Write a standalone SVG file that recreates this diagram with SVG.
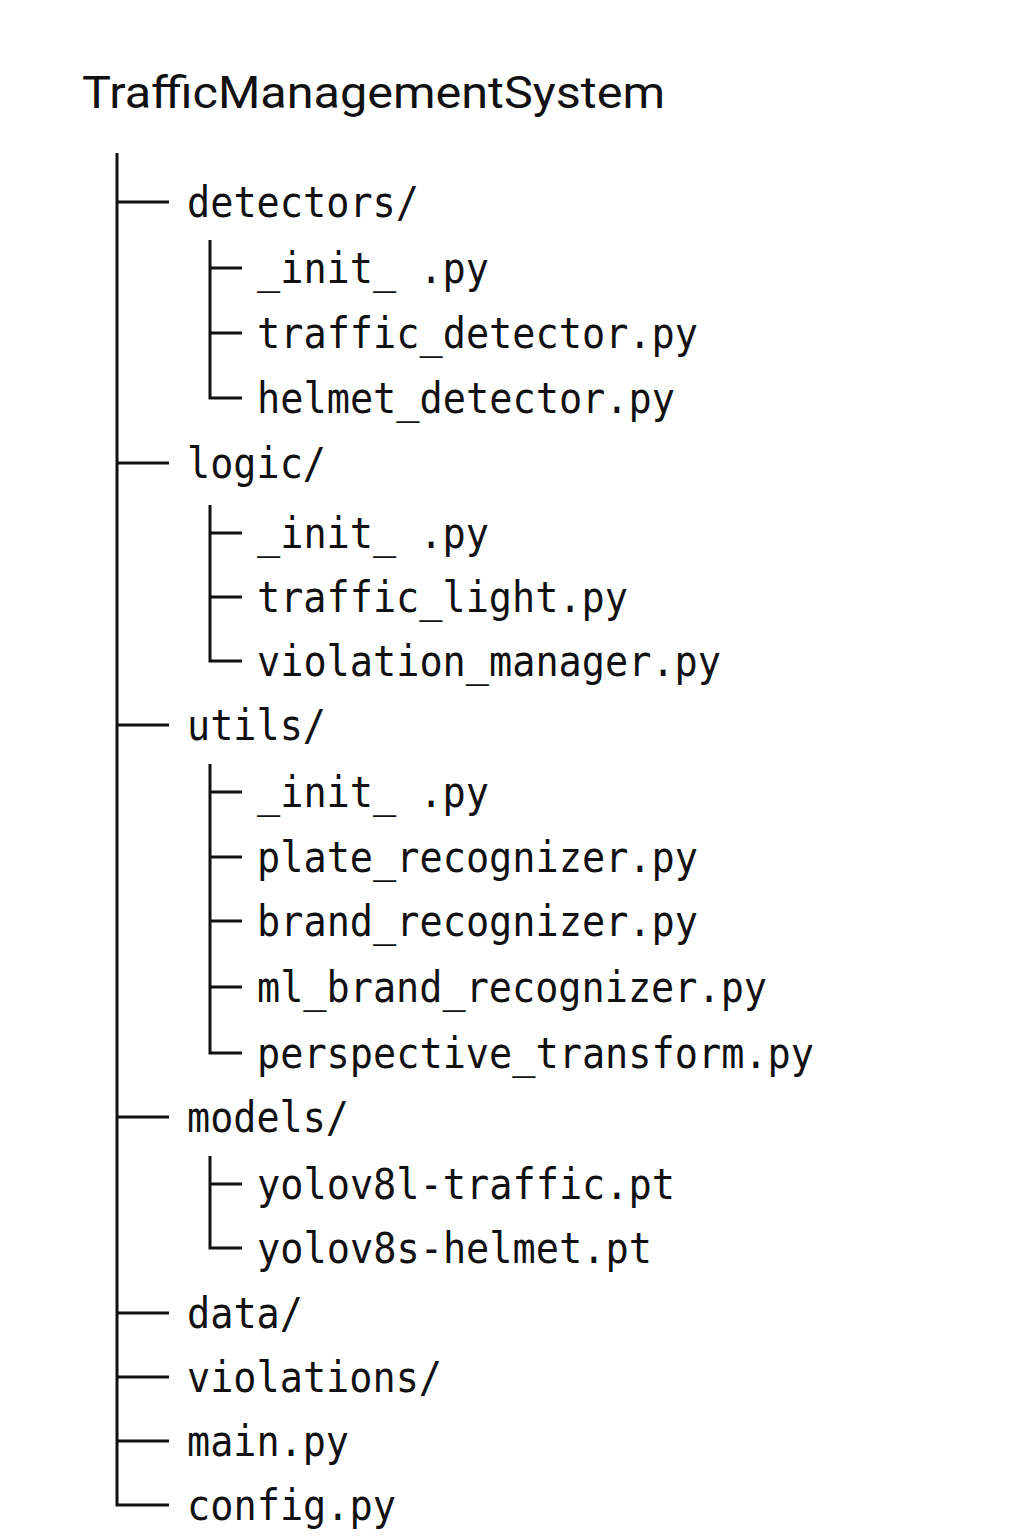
<svg xmlns="http://www.w3.org/2000/svg" width="1024" height="1536" viewBox="0 0 1024 1536">
<style>
.t{font-family:"DejaVu Sans Mono","Liberation Mono",monospace;font-size:43px;fill:#111;}
.title{font-family:Roboto,"Liberation Sans",sans-serif;font-size:44px;fill:#111;}
.c{stroke:#111;stroke-width:3;fill:none;stroke-linecap:butt;}
</style>
<rect width="1024" height="1536" fill="#fff"/>
<g id="root"><text class="title" x="82" y="108" textLength="583" lengthAdjust="spacingAndGlyphs">TrafficManagementSystem</text></g>
<g id="connectors">
<path class="c" d="M117 153V1505H169"/>
<path class="c" d="M117 202H169M117 463H169M117 725H169M117 1117H169M117 1313H169M117 1377H169M117 1441H169"/>
<path class="c" d="M210 240V398H242M210 268H242M210 333H242"/>
<path class="c" d="M210 505V661H242M210 533H242M210 597H242"/>
<path class="c" d="M210 764V1053H242M210 792H242M210 857H242M210 921H242M210 987H242"/>
<path class="c" d="M210 1156V1248H242M210 1184H242"/>
</g>
<g id="detectors"><text class="t" x="187" y="217" textLength="232" lengthAdjust="spacingAndGlyphs">detectors/</text></g>
<g id="detectors_init"><text class="t" x="257" y="283" textLength="232" lengthAdjust="spacingAndGlyphs">_init_ .py</text></g>
<g id="traffic_detector"><text class="t" x="257" y="348" textLength="441" lengthAdjust="spacingAndGlyphs">traffic_detector.py</text></g>
<g id="helmet_detector"><text class="t" x="257" y="413" textLength="418" lengthAdjust="spacingAndGlyphs">helmet_detector.py</text></g>
<g id="logic"><text class="t" x="187" y="478" textLength="139" lengthAdjust="spacingAndGlyphs">logic/</text></g>
<g id="logic_init"><text class="t" x="257" y="548" textLength="232" lengthAdjust="spacingAndGlyphs">_init_ .py</text></g>
<g id="traffic_light"><text class="t" x="257" y="612" textLength="371" lengthAdjust="spacingAndGlyphs">traffic_light.py</text></g>
<g id="violation_manager"><text class="t" x="257" y="676" textLength="464" lengthAdjust="spacingAndGlyphs">violation_manager.py</text></g>
<g id="utils"><text class="t" x="187" y="740" textLength="139" lengthAdjust="spacingAndGlyphs">utils/</text></g>
<g id="utils_init"><text class="t" x="257" y="807" textLength="232" lengthAdjust="spacingAndGlyphs">_init_ .py</text></g>
<g id="plate_recognizer"><text class="t" x="257" y="872" textLength="441" lengthAdjust="spacingAndGlyphs">plate_recognizer.py</text></g>
<g id="brand_recognizer"><text class="t" x="257" y="936" textLength="441" lengthAdjust="spacingAndGlyphs">brand_recognizer.py</text></g>
<g id="ml_brand_recognizer"><text class="t" x="257" y="1002" textLength="510" lengthAdjust="spacingAndGlyphs">ml_brand_recognizer.py</text></g>
<g id="perspective_transform"><text class="t" x="257" y="1068" textLength="557" lengthAdjust="spacingAndGlyphs">perspective_transform.py</text></g>
<g id="models"><text class="t" x="187" y="1132" textLength="162" lengthAdjust="spacingAndGlyphs">models/</text></g>
<g id="yolov8l"><text class="t" x="257" y="1199" textLength="418" lengthAdjust="spacingAndGlyphs">yolov8l-traffic.pt</text></g>
<g id="yolov8s"><text class="t" x="257" y="1263" textLength="395" lengthAdjust="spacingAndGlyphs">yolov8s-helmet.pt</text></g>
<g id="data"><text class="t" x="187" y="1328" textLength="116" lengthAdjust="spacingAndGlyphs">data/</text></g>
<g id="violations"><text class="t" x="187" y="1392" textLength="255" lengthAdjust="spacingAndGlyphs">violations/</text></g>
<g id="main"><text class="t" x="187" y="1456" textLength="162" lengthAdjust="spacingAndGlyphs">main.py</text></g>
<g id="config"><text class="t" x="187" y="1520" textLength="209" lengthAdjust="spacingAndGlyphs">config.py</text></g>
</svg>
